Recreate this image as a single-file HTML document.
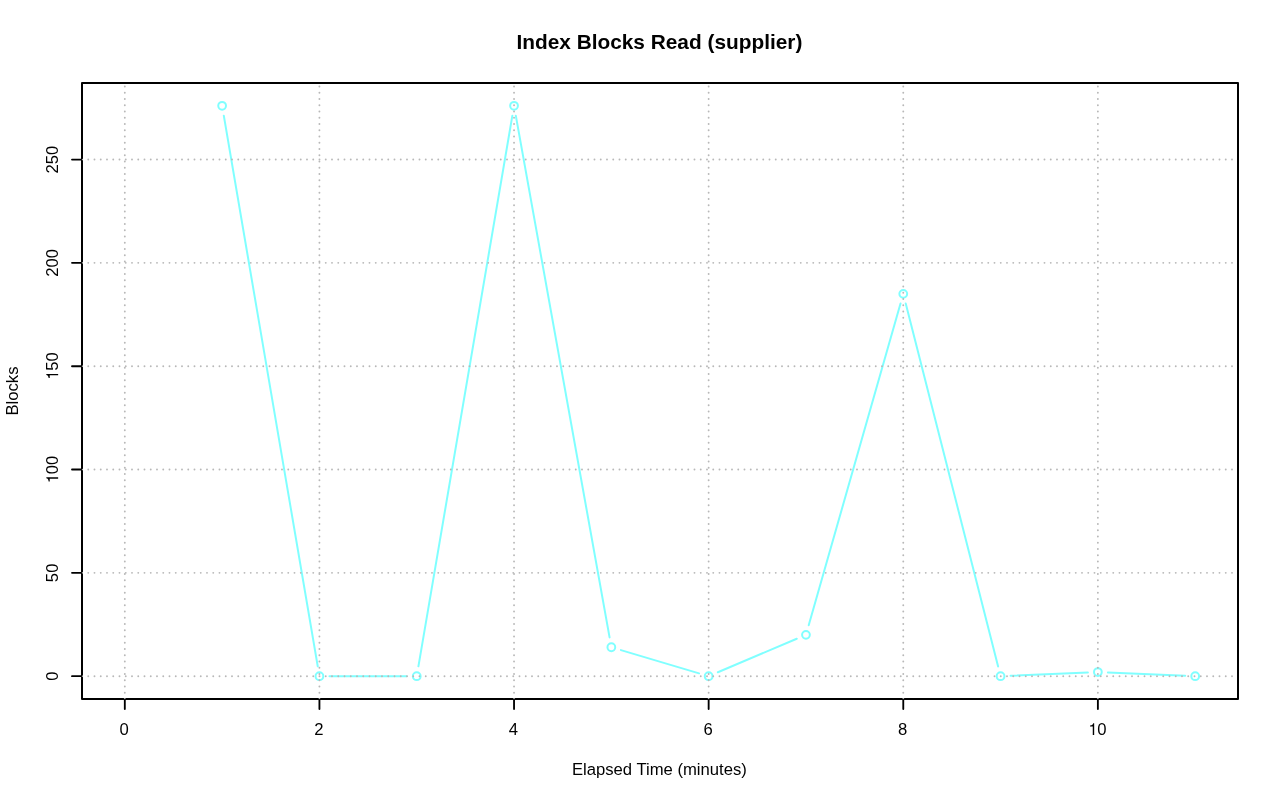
<!DOCTYPE html>
<html><head><meta charset="utf-8"><title>Index Blocks Read (supplier)</title>
<style>html,body{margin:0;padding:0;background:#fff;}body{width:1280px;height:801px;overflow:hidden;}svg{display:block;}text{font-family:"Liberation Sans",sans-serif;fill:#000;}</style>
</head><body>
<svg width="1280" height="801" viewBox="0 0 1280 801">
<rect x="0" y="0" width="1280" height="801" fill="#ffffff"/>
<g fill="none" stroke="#80ffff" stroke-width="2.0000" stroke-linecap="round">
<line x1="223.80" y1="115.67" x2="317.75" y2="666.33"/>
<line x1="329.43" y1="676.19" x2="406.73" y2="676.19"/>
<line x1="418.42" y1="666.33" x2="512.36" y2="115.67"/>
<line x1="515.81" y1="115.66" x2="609.58" y2="637.41"/>
<line x1="620.93" y1="650.10" x2="699.07" y2="673.34"/>
<line x1="717.86" y1="672.28" x2="796.76" y2="638.76"/>
<line x1="808.70" y1="625.24" x2="900.52" y2="303.49"/>
<line x1="905.73" y1="303.56" x2="998.11" y2="666.49"/>
<line x1="1010.56" y1="675.76" x2="1087.89" y2="672.48"/>
<line x1="1107.87" y1="672.48" x2="1185.19" y2="675.76"/>
<circle cx="222.12" cy="105.81" r="3.88"/>
<circle cx="319.43" cy="676.19" r="3.88"/>
<circle cx="416.73" cy="676.19" r="3.88"/>
<circle cx="514.04" cy="105.81" r="3.88"/>
<circle cx="611.35" cy="647.25" r="3.88"/>
<circle cx="708.65" cy="676.19" r="3.88"/>
<circle cx="805.96" cy="634.85" r="3.88"/>
<circle cx="903.27" cy="293.87" r="3.88"/>
<circle cx="1000.57" cy="676.19" r="3.88"/>
<circle cx="1097.88" cy="672.05" r="3.88"/>
<circle cx="1195.19" cy="676.19" r="3.88"/>
</g>
<g fill="none" stroke="#b8b8b8" stroke-width="1.9000" stroke-linecap="round" stroke-dasharray="0 6.25">
<line x1="124.81" y1="699.00" x2="124.81" y2="83.00"/>
<line x1="319.43" y1="699.00" x2="319.43" y2="83.00"/>
<line x1="514.04" y1="699.00" x2="514.04" y2="83.00"/>
<line x1="708.65" y1="699.00" x2="708.65" y2="83.00"/>
<line x1="903.27" y1="699.00" x2="903.27" y2="83.00"/>
<line x1="1097.88" y1="699.00" x2="1097.88" y2="83.00"/>
<line x1="82.00" y1="676.19" x2="1238.00" y2="676.19"/>
<line x1="82.00" y1="572.86" x2="1238.00" y2="572.86"/>
<line x1="82.00" y1="469.53" x2="1238.00" y2="469.53"/>
<line x1="82.00" y1="366.20" x2="1238.00" y2="366.20"/>
<line x1="82.00" y1="262.87" x2="1238.00" y2="262.87"/>
<line x1="82.00" y1="159.55" x2="1238.00" y2="159.55"/>
</g>
<g fill="none" stroke="#000" stroke-width="1.8500" stroke-linecap="round">
<line x1="124.81" y1="699.00" x2="124.81" y2="709.00"/>
<line x1="319.43" y1="699.00" x2="319.43" y2="709.00"/>
<line x1="514.04" y1="699.00" x2="514.04" y2="709.00"/>
<line x1="708.65" y1="699.00" x2="708.65" y2="709.00"/>
<line x1="903.27" y1="699.00" x2="903.27" y2="709.00"/>
<line x1="1097.88" y1="699.00" x2="1097.88" y2="709.00"/>
<line x1="82.00" y1="676.19" x2="72.00" y2="676.19"/>
<line x1="82.00" y1="572.86" x2="72.00" y2="572.86"/>
<line x1="82.00" y1="469.53" x2="72.00" y2="469.53"/>
<line x1="82.00" y1="366.20" x2="72.00" y2="366.20"/>
<line x1="82.00" y1="262.87" x2="72.00" y2="262.87"/>
<line x1="82.00" y1="159.55" x2="72.00" y2="159.55"/>
</g>
<rect x="82.0" y="83.0" width="1156.0" height="616.0" fill="none" stroke="#000" stroke-width="2" stroke-linejoin="round"/>
<g fill="#fff" fill-opacity="0.75">
<path d="M123.66 697.90L125.96 697.90L124.81 699.35Z"/>
<path d="M318.28 697.90L320.58 697.90L319.43 699.35Z"/>
<path d="M512.89 697.90L515.19 697.90L514.04 699.35Z"/>
<path d="M707.50 697.90L709.80 697.90L708.65 699.35Z"/>
<path d="M902.12 697.90L904.42 697.90L903.27 699.35Z"/>
<path d="M1096.73 697.90L1099.03 697.90L1097.88 699.35Z"/>
<path d="M83.10 675.04L83.10 677.34L81.65 676.19Z"/>
<path d="M83.10 571.71L83.10 574.01L81.65 572.86Z"/>
<path d="M83.10 468.38L83.10 470.68L81.65 469.53Z"/>
<path d="M83.10 365.05L83.10 367.35L81.65 366.20Z"/>
<path d="M83.10 261.72L83.10 264.02L81.65 262.87Z"/>
<path d="M83.10 158.40L83.10 160.70L81.65 159.55Z"/>
</g>
<g font-size="16.667px" text-anchor="middle" opacity="0.999">
<g transform="translate(124.21 735)"><text x="0" y="0">0</text></g>
<g transform="translate(318.83 735)"><text x="0" y="0">2</text></g>
<g transform="translate(513.44 735)"><text x="0" y="0">4</text></g>
<g transform="translate(708.05 735)"><text x="0" y="0">6</text></g>
<g transform="translate(902.67 735)"><text x="0" y="0">8</text></g>
<g transform="translate(1097.28 735)"><path fill="#000" transform="translate(-9.267 0) scale(0.016667 -0.016667)" d="M285 0L370 0L370 709L312 709C297 640 255 582 122 571L122 505L285 505Z"/><text x="0.000" y="0" text-anchor="start">0</text></g>
<g transform="translate(58.15 676.19) rotate(-90)"><text x="0" y="0">0</text></g>
<g transform="translate(58.15 572.86) rotate(-90)"><text x="0" y="0">50</text></g>
<g transform="translate(58.15 469.53) rotate(-90)"><path fill="#000" transform="translate(-13.900 0) scale(0.016667 -0.016667)" d="M285 0L370 0L370 709L312 709C297 640 255 582 122 571L122 505L285 505Z"/><text x="-4.633" y="0" text-anchor="start">00</text></g>
<g transform="translate(58.15 366.20) rotate(-90)"><path fill="#000" transform="translate(-13.900 0) scale(0.016667 -0.016667)" d="M285 0L370 0L370 709L312 709C297 640 255 582 122 571L122 505L285 505Z"/><text x="-4.633" y="0" text-anchor="start">50</text></g>
<g transform="translate(58.15 262.87) rotate(-90)"><text x="0" y="0">200</text></g>
<g transform="translate(58.15 159.55) rotate(-90)"><text x="0" y="0">250</text></g>
<text x="659.40" y="775">Elapsed Time (minutes)</text>
<text transform="translate(18 391.00) rotate(-90)">Blocks</text>
<text x="659.40" y="48.8" font-size="20.833px" font-weight="bold">Index Blocks Read (supplier)</text>
</g>
</svg>
</body></html>
